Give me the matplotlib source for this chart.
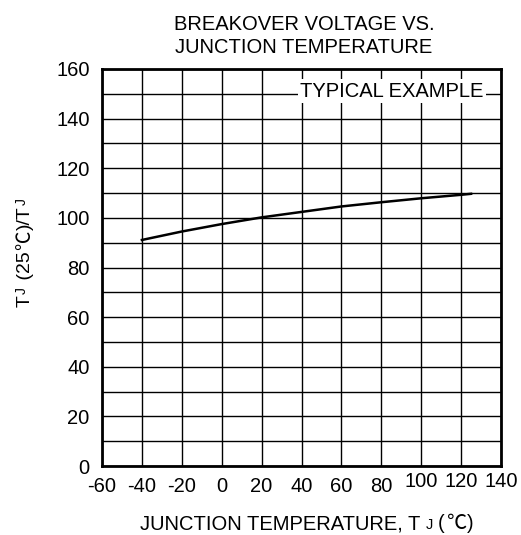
import matplotlib
matplotlib.use("Agg")
import matplotlib.pyplot as plt
from matplotlib.transforms import ScaledTranslation

plt.rcParams['font.family'] = ['Liberation Sans', 'DejaVu Sans']

# Data
temps = [-40, -20, 0, 20, 40, 60, 80, 100, 120, 125]
ratio = [91.1, 94.5, 97.5, 100.2, 102.4, 104.6, 106.3, 107.9, 109.3, 109.7]
xticks = [-60, -40, -20, 0, 20, 40, 60, 80, 100, 120, 140]
yticks = [0, 20, 40, 60, 80, 100, 120, 140, 160]
yminor = [10, 30, 50, 70, 90, 110, 130, 150]

W, H = 521, 535
FS = 14.5
fig = plt.figure(figsize=(W / 100, H / 100), dpi=100)
ax = fig.add_axes([102 / W, 69 / H, 399 / W, 397 / H])

ax.set_xlim(-60, 140)
ax.set_ylim(0, 160)
ax.set_xticks(xticks)
ax.set_yticks(yticks)
ax.set_yticks(yminor, minor=True)
ax.set_xticklabels([str(v) for v in xticks])
ax.set_yticklabels([str(v) for v in yticks])
ax.tick_params(which='both', length=0, labelsize=FS, colors='black')
ax.tick_params(axis='x', pad=8)
ax.tick_params(axis='y', pad=9)
ax.grid(which='both', color='black', lw=1.0)
ax.set_axisbelow(True)
for s in ax.spines.values():
    s.set_linewidth(2.0)
    s.set_color('black')

# raise the last three x tick labels slightly
for lab in ax.get_xticklabels():
    if lab.get_text() in ('100', '120', '140'):
        lab.set_transform(lab.get_transform() + ScaledTranslation(0, 5 / 100, fig.dpi_scale_trans))

ax.plot(temps, ratio, color='black', lw=1.8, zorder=3)

ax.text(85.4, 148.8, 'TYPICAL EXAMPLE', ha='center', va='baseline', fontsize=FS,
        bbox=dict(boxstyle='square,pad=0.12', fc='white', ec='none'), zorder=4)

# title
fig.text(304 / W, 1 - 30 / H, 'BREAKOVER VOLTAGE VS.', ha='center', va='baseline', fontsize=FS)
fig.text(304 / W, 1 - 53 / H, 'JUNCTION TEMPERATURE', ha='center', va='baseline', fontsize=FS)

fig.canvas.draw()
r = fig.canvas.get_renderer()
CJK = ['Noto Sans CJK SC', 'DejaVu Sans']

# x label, assembled from pieces (small J, degree-Celsius sign)
yb = 1 - 529 / H
x = 140
pieces = [('JUNCTION TEMPERATURE, T', 14.5, None, 5),
          ('J', 10.5, None, 5),
          ('(', 14.5, None, 2),
          ('℃', 14.5, CJK, 1),
          (')', 14.5, None, 0)]
for txt, fs, fam, gap in pieces:
    kw = {} if fam is None else {'family': fam}
    t = fig.text(x / W, yb, txt, ha='left', va='baseline', fontsize=fs, **kw)
    bb = t.get_window_extent(r)
    x = bb.x1 + gap

# y label, assembled from rotated pieces (reads bottom to top)
xb = 30  # baseline x in pixels
y = H - 307
ypieces = [('T', 14, None, 0, 1),
           ('J', 10, None, 4, 2),
           (' (25', 14, None, 0, 1),
           ('℃', 14, CJK, 0, 1),
           (')/T', 14, None, 0, 1),
           ('J', 10, None, 4, 0)]
for txt, fs, fam, raise_px, gap in ypieces:
    kw = {} if fam is None else {'family': fam}
    t = fig.text((xb - raise_px) / W, y / H, txt, rotation=90, rotation_mode='anchor',
                 ha='left', va='baseline', fontsize=fs, **kw)
    bb = t.get_window_extent(r)
    y = bb.y1 + gap

fig.savefig('out.png', dpi=100)
